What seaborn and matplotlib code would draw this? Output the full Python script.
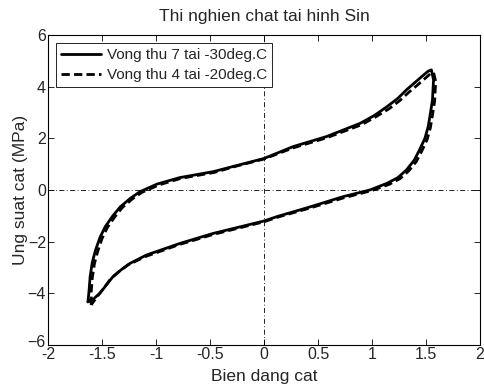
import matplotlib
matplotlib.use("Agg")
import matplotlib.pyplot as plt
import matplotlib.transforms as mtransforms
import seaborn as sns
import pandas as pd

# Loop 7 at -30 deg.C (solid)
x_v7 = [-1.63, -1.62, -1.61, -1.59, -1.56, -1.52, -1.47, -1.40, -1.33, -1.24, -1.15, -0.99, -0.78, -0.47, -0.25, 0.0,
        0.27, 0.58, 0.89, 1.02, 1.14, 1.24, 1.32, 1.40, 1.48, 1.52, 1.55,
        1.57, 1.565, 1.56, 1.54, 1.52, 1.49, 1.44, 1.39, 1.32, 1.24, 1.14, 0.98, 0.73, 0.43, 0.12, 0.0,
        -0.47, -0.78, -1.09, -1.24, -1.32, -1.40, -1.46, -1.52, -1.58, -1.63]
y_v7 = [-4.33, -3.90, -3.36, -2.80, -2.33, -1.85, -1.42, -1.00, -0.65, -0.33, -0.07, 0.23, 0.48, 0.71, 0.95, 1.22,
        1.68, 2.07, 2.58, 2.88, 3.23, 3.55, 3.88, 4.17, 4.46, 4.60, 4.65,
        4.26, 3.90, 3.49, 2.95, 2.45, 2.00, 1.55, 1.15, 0.78, 0.48, 0.26, 0.0, -0.26, -0.65, -1.03, -1.20,
        -1.68, -2.07, -2.52, -2.84, -3.08, -3.36, -3.68, -4.00, -4.22, -4.33]

# Loop 4 at -20 deg.C (dashed)
x_v4 = [-1.60, -1.60, -1.59, -1.57, -1.54, -1.50, -1.45, -1.38, -1.31, -1.22, -1.13, -0.97, -0.77, -0.46, -0.25, 0.0,
        0.27, 0.58, 0.90, 1.03, 1.16, 1.26, 1.34, 1.42, 1.50, 1.54, 1.57,
        1.59, 1.585, 1.58, 1.56, 1.54, 1.51, 1.46, 1.41, 1.34, 1.26, 1.16, 1.00, 0.74, 0.44, 0.12, 0.0,
        -0.47, -0.79, -1.10, -1.26, -1.34, -1.42, -1.48, -1.54, -1.58, -1.60]
y_v4 = [-4.45, -3.95, -3.40, -2.85, -2.38, -1.88, -1.45, -1.03, -0.67, -0.35, -0.09, 0.20, 0.45, 0.68, 0.93, 1.20,
        1.63, 2.02, 2.52, 2.82, 3.15, 3.47, 3.78, 4.06, 4.35, 4.50, 4.55,
        4.20, 3.85, 3.45, 2.90, 2.40, 1.95, 1.50, 1.10, 0.74, 0.44, 0.22, -0.02, -0.30, -0.68, -1.06, -1.23,
        -1.72, -2.12, -2.58, -2.90, -3.15, -3.44, -3.78, -4.10, -4.33, -4.45]

label_v7 = "Vong thu 7 tai -30deg.C"
label_v4 = "Vong thu 4 tai -20deg.C"
x_ticks = [-2, -1.5, -1, -0.5, 0, 0.5, 1, 1.5, 2]
x_tick_labels = ["-2", "-1.5", "-1", "-0.5", "0", "0.5", "1", "1.5", "2"]
y_ticks = [-6, -4, -2, 0, 2, 4, 6]

sns.set_theme(style="ticks")
plt.rcParams["font.family"] = ["Liberation Sans", "DejaVu Sans"]
plt.rcParams["xtick.direction"] = "in"
plt.rcParams["ytick.direction"] = "in"

df7 = pd.DataFrame({"x": x_v7, "y": y_v7})
df4 = pd.DataFrame({"x": x_v4, "y": y_v4})

fig = plt.figure(figsize=(4.84, 3.89), dpi=100)
ax = fig.add_axes([48/484, 44/389, 432/484, 310/389])

ax.axhline(0, color="black", lw=0.6, ls=(0, (6, 3, 1, 3)), zorder=1)
ax.axvline(0, color="black", lw=0.6, ls=(0, (6, 3, 1, 3)), zorder=1)

sns.lineplot(data=df7, x="x", y="y", sort=False, estimator=None, color="black", lw=2.0, ax=ax, label=label_v7)
sns.lineplot(data=df4, x="x", y="y", sort=False, estimator=None, color="black", lw=2.0, ax=ax, label=label_v4,
             dashes=False)
ax.lines[-1].set_linestyle((0, (3, 1.5)))
for ln in ax.lines[-2:]:
    ln.set_solid_joinstyle("round")
    ln.set_dash_joinstyle("round")

ax.set_xlim(-2, 2)
ax.set_ylim(-6, 6)
ax.set_xticks(x_ticks)
ax.set_xticklabels(x_tick_labels)
ax.set_yticks(y_ticks)
ax.tick_params(axis="both", labelsize=11.5, length=4, width=0.6, top=True, right=True, color="black", pad=1.5)
for s in ax.spines.values():
    s.set_visible(True)
    s.set_linewidth(0.8)
    s.set_color("black")

# nudge the bottom y tick label up slightly, as in the reference
ylab0 = ax.get_yticklabels()[0]
ylab0.set_transform(ylab0.get_transform() + mtransforms.ScaledTranslation(0, 4/100, fig.dpi_scale_trans))

ax.set_xlabel("Bien dang cat", fontsize=12.5, labelpad=5)
ax.set_ylabel("Ung suat cat (MPa)", fontsize=12.5, labelpad=-0.5)
ax.set_title("Thi nghien chat tai hinh Sin", fontsize=12.5, pad=10)

leg = ax.legend(loc="upper left", fontsize=11, frameon=True, fancybox=False, edgecolor="black",
                handlelength=2.6, borderaxespad=0.5, labelspacing=0.4, borderpad=0.35, handletextpad=0.4)
leg.get_frame().set_linewidth(0.6)
leg.get_frame().set_alpha(1)

fig.savefig("out.png", dpi=100, facecolor="white")
